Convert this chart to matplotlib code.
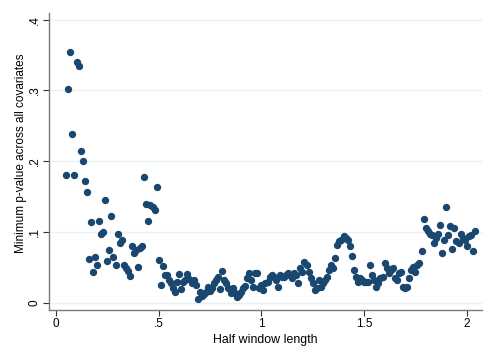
import numpy as np
import matplotlib
matplotlib.use("Agg")
import matplotlib.pyplot as plt

# half window lengths 0.05 .. 2.04 in steps of 0.01
half_window = np.round(np.arange(0.05, 2.045, 0.01), 2)

min_pvalue = [
    .180, .302, .354, .239, .180, .340, .334, .214, .201, .172,   # 0.05-0.14
    .156, .062, .114, .044, .065, .054, .116, .098, .100, .145,   # 0.15-0.24
    .059, .075, .123, .065, .054, .098, .085, .089, .053, .050,   # 0.25-0.34
    .045, .038, .081, .071, .075, .051, .078, .080, .178, .140,   # 0.35-0.44
    .116, .139, .136, .131, .164, .060, .025, .052, .040, .039,   # 0.45-0.54
    .032, .028, .021, .015, .030, .041, .020, .029, .032, .041,   # 0.55-0.64
    .034, .028, .032, .025, .005, .016, .010, .013, .015, .023,   # 0.65-0.74
    .017, .021, .028, .033, .036, .020, .045, .033, .028, .021,   # 0.75-0.84
    .014, .021, .014, .008, .011, .016, .021, .024, .035, .042,   # 0.85-0.94
    .033, .023, .042, .042, .021, .026, .018, .028, .030, .037,   # 0.95-1.04
    .040, .037, .033, .023, .040, .037, .037, .040, .042, .040,   # 1.05-1.14
    .035, .042, .040, .028, .049, .044, .058, .054, .044, .035,   # 1.15-1.24
    .028, .018, .021, .033, .023, .028, .033, .037, .047, .054,   # 1.25-1.34
    .049, .063, .082, .087, .089, .094, .092, .089, .080, .066,   # 1.35-1.44
    .047, .037, .030, .035, .033, .030, .029, .030, .053, .040,   # 1.45-1.54
    .033, .023, .028, .035, .037, .056, .049, .042, .047, .049,   # 1.55-1.64
    .035, .033, .042, .044, .023, .021, .023, .035, .047, .051,   # 1.65-1.74
    .044, .054, .056, .073, .118, .106, .101, .098, .096, .084,   # 1.75-1.84
    .092, .098, .110, .070, .089, .136, .096, .108, .076, .106,   # 1.85-1.94
    .087, .084, .098, .092, .089, .080, .094, .096, .073, .101,   # 1.95-2.04
]

xticks = [0, 0.5, 1, 1.5, 2]
xticklabels = ["0", ".5", "1", "1.5", "2"]
yticks = [0, 0.1, 0.2, 0.3, 0.4]
yticklabels = ["0", ".1", ".2", ".3", ".4"]

plt.rcParams["font.family"] = ["Liberation Sans", "DejaVu Sans"]

fig = plt.figure(figsize=(4.95, 3.6), dpi=100)
ax = fig.add_axes([0.099, 0.139, 0.875, 0.826])

ax.scatter(half_window, min_pvalue, s=28, color="#1a476f", linewidths=0, zorder=3)

ax.set_xlim(-0.034, 2.075)
ax.set_ylim(-0.0099, 0.41)

ax.set_xticks(xticks)
ax.set_xticklabels(xticklabels)
ax.set_yticks(yticks)
ax.set_yticklabels(yticklabels, rotation=90, va="center")

ax.grid(axis="y", color="#eaf2f3", linewidth=1.0, zorder=0)
for side in ["top", "right"]:
    ax.spines[side].set_visible(False)
for side in ["left", "bottom"]:
    ax.spines[side].set_color("#7a7a7a")
    ax.spines[side].set_linewidth(1.0)

ax.tick_params(axis="both", direction="out", length=4, width=0.8,
               color="#333333", labelsize=8.5, pad=2)

ax.set_xlabel("Half window length", fontsize=8.9, labelpad=3)
ax.set_ylabel("Minimum p-value across all covariates", fontsize=8.5)
ax.yaxis.set_label_coords(-0.050, 0.526)

plt.savefig("out.png", dpi=100)
plt.close("all")
